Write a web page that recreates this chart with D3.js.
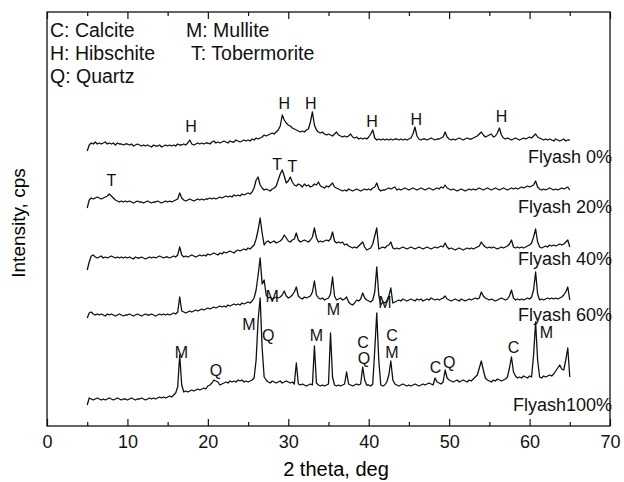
<!DOCTYPE html>
<meta charset="utf-8">
<style>
body { margin: 0; background: #fff; }
svg { font-family: "Liberation Sans", Arial, sans-serif; }
.trace { fill: none; stroke: #111; stroke-width: 1.3px; stroke-linejoin: round; }
.frame { fill: none; stroke: #111; stroke-width: 1.3px; }
.tick line { stroke: #111; stroke-width: 1.2px; }
.tick text { font-size: 18px; fill: #111; }
.phase { font-size: 16px; fill: #111; text-anchor: middle; }
.legend, .series-name { fill: #111; }
</style>
<svg width="624" height="482"></svg>
<script src="https://d3js.org/d3.v7.min.js"></script>
<script>

// scan grid: 5 to 65 deg, 0.25 deg step
var twoTheta = d3.range(0, 241).map(function(i) { return 5 + i * 0.25; });

// intensities (arb. units) read per sample, 20 samples per row = 5 deg
var flyash0 = [
  1,7,9,8,10,8,9,8,9,10,8,9,8,9,7,9,8,8,7,8,
  8,7,8,6,7,8,7,6,7,6,7,6,5,7,6,6,7,5,6,7,
  6,7,6,7,6,8,7,7,8,7,9,12,8,7,8,9,8,9,8,9,
  9,8,10,11,9,10,9,10,11,10,9,11,10,10,12,11,10,11,12,11,
  12,11,13,12,14,13,14,15,17,16,17,18,19,18,20,22,26,37,32,29,
  27,26,24,23,22,21,20,21,20,22,23,30,40,27,22,20,19,20,18,17,
  18,17,16,18,20,17,16,15,16,15,16,18,15,14,15,13,14,13,14,13,
  15,18,22,14,12,13,12,13,12,13,12,13,12,13,13,12,13,12,13,12,
  13,14,18,25,16,13,12,13,13,12,13,14,13,12,13,13,14,15,20,15,
  13,12,13,12,13,14,13,12,13,14,13,13,14,15,16,18,20,17,15,16,
  17,18,15,16,19,24,17,14,13,14,13,12,13,14,13,12,13,14,13,14,
  15,14,16,18,15,14,13,12,13,12,13,12,11,13,12,11,12,13,11,12,
  12];

var flyash20 = [
  2,10,12,11,12,13,12,11,12,13,14,16,14,12,10,9,8,9,8,9,
  8,9,8,7,8,9,8,8,7,8,9,8,7,8,8,9,8,7,8,9,
  8,9,8,9,10,11,17,12,10,9,10,11,10,9,10,11,10,11,10,11,
  11,12,11,12,11,12,13,12,13,14,13,14,13,15,14,15,14,16,15,16,
  17,16,18,22,30,33,25,22,20,21,20,19,21,22,24,30,36,40,34,27,
  29,33,28,25,24,26,25,23,26,24,25,23,24,26,25,28,24,23,22,24,
  23,25,27,23,22,21,20,19,20,19,21,20,19,20,21,20,19,20,21,20,
  21,20,22,23,27,21,19,20,20,21,22,21,22,23,20,21,20,21,22,21,
  20,21,22,21,20,21,22,21,20,21,22,21,20,21,22,21,23,22,25,22,
  21,20,21,20,19,20,21,20,19,20,21,20,21,20,21,22,21,20,21,22,
  21,20,21,22,21,20,21,22,21,20,21,22,21,22,21,22,23,22,23,24,
  23,24,25,29,23,21,20,21,20,21,22,21,20,21,20,21,22,21,22,23,
  20];

var flyash40 = [
  2,10,16,17,15,14,15,16,14,15,14,15,16,15,14,15,14,15,14,15,
  14,15,14,13,15,14,14,15,14,13,14,15,14,15,14,15,16,15,14,15,
  15,14,15,16,15,17,25,17,15,16,15,16,17,16,15,16,17,16,17,16,
  18,17,18,19,18,17,19,18,20,19,20,21,20,19,21,22,21,22,23,22,
  24,23,25,27,33,42,54,39,27,30,31,29,30,31,29,30,31,33,37,34,
  31,30,32,33,39,32,30,31,32,31,30,32,35,44,34,30,31,30,31,32,
  31,33,40,31,29,30,29,30,27,28,26,25,24,25,24,26,28,30,25,22,
  23,24,28,36,44,23,24,25,24,26,27,30,24,23,24,23,24,25,24,23,
  24,25,24,23,24,25,24,23,24,25,24,23,24,25,24,25,26,25,29,25,
  23,24,23,22,23,24,23,22,23,24,23,24,23,24,25,26,30,27,25,24,
  25,24,25,24,23,24,25,24,25,26,28,32,25,24,25,24,25,24,25,26,
  27,29,35,43,30,25,24,25,26,25,27,26,27,26,27,28,27,28,30,32,
  25];

var flyash60 = [
  2,7,8,6,5,6,5,6,5,4,6,5,6,5,4,5,6,5,4,5,
  5,6,5,4,5,6,5,4,5,6,5,5,6,5,4,5,6,5,6,5,
  6,5,6,7,6,8,23,9,8,7,8,9,8,9,10,9,10,11,10,11,
  12,11,12,13,12,13,14,13,14,13,15,14,15,16,15,16,15,17,16,17,
  18,17,19,22,30,45,62,36,40,25,22,23,21,22,23,22,23,25,29,24,
  22,23,25,28,33,24,22,21,23,22,23,24,28,39,25,22,21,22,20,21,
  22,26,43,24,20,21,22,20,21,23,18,16,15,17,20,19,21,27,22,20,
  19,18,20,28,53,25,15,18,17,19,24,32,17,18,19,20,19,21,20,19,
  20,21,20,19,21,20,21,19,20,21,20,22,21,20,21,20,21,22,24,21,
  20,19,20,21,20,19,21,20,19,20,21,20,21,22,21,22,28,24,22,21,
  20,21,20,19,20,21,22,21,20,21,24,30,22,20,21,20,21,20,21,22,
  21,23,30,48,26,20,21,20,21,22,21,22,21,22,21,22,23,25,28,33,
  20];

var flyash100 = [
  2,9,8,7,8,9,8,7,8,7,8,9,8,7,8,9,8,7,8,8,
  7,8,9,8,7,8,8,9,8,7,8,9,8,9,8,9,10,9,10,9,
  10,11,10,12,14,20,52,22,15,16,15,16,17,16,17,18,17,18,19,18,
  21,22,24,27,26,25,22,23,24,25,24,26,25,26,25,27,26,27,25,26,
  25,26,27,29,47,87,109,59,30,27,25,24,26,25,24,25,26,24,25,26,
  25,24,25,23,44,23,22,23,22,21,22,23,22,61,24,22,21,22,21,22,
  23,74,30,22,21,22,21,22,23,35,23,22,21,22,23,22,23,40,27,22,
  22,21,23,57,94,47,22,21,22,25,32,46,27,23,22,21,22,23,22,21,
  22,21,22,23,22,21,22,23,22,23,24,23,22,29,25,24,23,25,37,29,
  27,26,25,26,27,25,26,27,26,25,27,26,28,30,32,39,46,37,29,27,
  26,25,27,26,28,27,26,27,28,30,39,50,35,31,29,30,29,31,30,29,
  31,30,52,85,47,30,29,31,30,31,32,31,33,36,39,42,38,37,47,59,
  30];

var seriesNames = ["Flyash 0%", "Flyash 20%", "Flyash 40%", "Flyash 60%", "Flyash100%"];
var seriesValues = [flyash0, flyash20, flyash40, flyash60, flyash100];
// vertical stacking offset of each pattern
var offsets = [274, 216, 154, 106, 19];
// level (in intensity units) where each series name sits
var nameLevels = [263, 213, 161, 105, 15];

var legendLeft = ["C: Calcite", "H: Hibschite", "Q: Quartz"];
var legendRight = ["M: Mullite", " T: Tobermorite"];

// phase markers: letter, 2theta, level
var phaseMarks = [
  ["H", 17.9, 294], ["H", 29.5, 317], ["H", 32.8, 317],
  ["H", 40.4, 299], ["H", 45.9, 301], ["H", 56.5, 304],
  ["T", 8.0, 240], ["T", 28.6, 256], ["T", 30.5, 254],
  ["M", 28.0, 124], ["M", 35.6, 111], ["M", 42.0, 118],
  ["M", 16.7, 68], ["Q", 21.0, 50], ["M", 25.1, 96], ["Q", 27.5, 85],
  ["M", 33.5, 85], ["C", 39.3, 78], ["Q", 39.4, 62], ["C", 42.9, 85],
  ["M", 42.9, 68], ["C", 48.3, 53], ["Q", 50.0, 58], ["C", 58.0, 73],
  ["M", 62.1, 88]
];

var xTicks = [0, 10, 20, 30, 40, 50, 60, 70];
var xMinor = [5, 15, 25, 35, 45, 55, 65];

var svg = d3.select("svg");

var x = d3.scaleLinear().domain([0, 70]).range([47, 610]);
var y = d3.scaleLinear().domain([0, 414]).range([426, 12]);

// traces
var line = d3.line()
    .x(function(d) { return x(d[0]); })
    .y(function(d) { return y(d[1]); });

seriesValues.forEach(function(vals, k) {
  var pts = vals.map(function(v, i) { return [twoTheta[i], v + offsets[k]]; });
  svg.append("path")
      .attr("class", "trace")
      .attr("d", line(pts));
});

// axes, ticks pointing inward
svg.append("g")
    .attr("transform", "translate(0," + y(0) + ")")
    .call(d3.axisBottom(x).tickValues(xTicks).tickSize(-7).tickPadding(9))
    .call(function(g) { g.select(".domain").remove(); });

svg.append("g")
    .attr("transform", "translate(0," + y(0) + ")")
    .call(d3.axisBottom(x).tickValues(xMinor).tickSize(-4).tickFormat(""))
    .call(function(g) { g.select(".domain").remove(); });

svg.append("g")
    .attr("transform", "translate(0," + y(414) + ")")
    .call(d3.axisTop(x).tickValues(xTicks).tickSize(-7).tickFormat(""))
    .call(function(g) { g.select(".domain").remove(); });

svg.append("g")
    .attr("transform", "translate(0," + y(414) + ")")
    .call(d3.axisTop(x).tickValues(xMinor).tickSize(-4).tickFormat(""))
    .call(function(g) { g.select(".domain").remove(); });

svg.append("rect")
    .attr("class", "frame")
    .attr("x", x(0))
    .attr("y", y(414))
    .attr("width", x(70) - x(0))
    .attr("height", y(0) - y(414));

// axis titles
svg.append("text")
    .attr("x", 336)
    .attr("y", 476)
    .attr("text-anchor", "middle")
    .style("font-size", "20px")
    .text("2 theta, deg");

svg.append("text")
    .attr("transform", "translate(25,223) rotate(-90)")
    .attr("text-anchor", "middle")
    .style("font-size", "19px")
    .text("Intensity, cps");

// legend of phases
svg.selectAll(".legend-l")
  .data(legendLeft)
  .enter().append("text")
    .attr("class", "legend")
    .attr("x", 50)
    .attr("y", function(d, i) { return 37 + i * 23; })
    .style("font-size", "19.5px")
    .text(function(d) { return d; });

svg.selectAll(".legend-r")
  .data(legendRight)
  .enter().append("text")
    .attr("class", "legend")
    .attr("x", 186)
    .attr("y", function(d, i) { return 37 + i * 23; })
    .attr("xml:space", "preserve")
    .style("white-space", "pre")
    .style("font-size", "19.5px")
    .text(function(d) { return d; });

// series names on the right
svg.selectAll(".series-name")
  .data(seriesNames)
  .enter().append("text")
    .attr("class", "series-name")
    .attr("x", 612)
    .attr("y", function(d, i) { return y(nameLevels[i]); })
    .attr("text-anchor", "end")
    .style("font-size", "18px")
    .text(function(d) { return d; });

// phase letters
svg.selectAll(".phase")
  .data(phaseMarks)
  .enter().append("text")
    .attr("class", "phase")
    .attr("x", function(d) { return x(d[1]); })
    .attr("y", function(d) { return y(d[2]); })
    .text(function(d) { return d[0]; });

</script>
